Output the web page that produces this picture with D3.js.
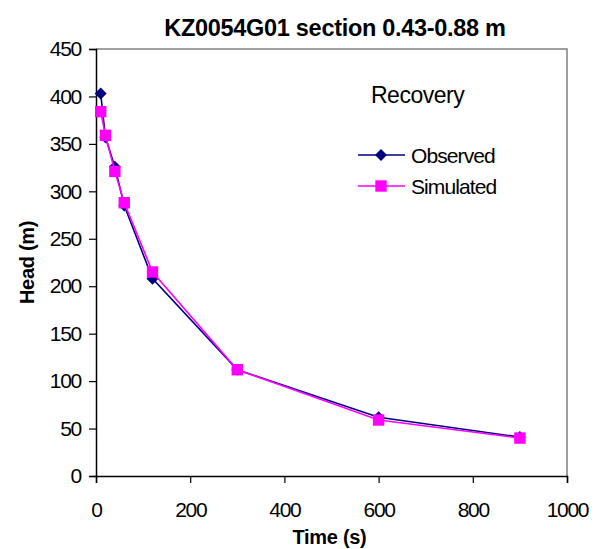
<!DOCTYPE html>
<html>
<head>
  <script src="https://d3js.org/d3.v7.min.js"></script>
  <style>
    body { margin: 0; background: #fff; font-family: "Liberation Sans", Arial, sans-serif; }
    .tick text { font-family: "Liberation Sans", Arial, sans-serif; }
  </style>
</head>
<body>
  <svg id="chart" width="596" height="549"></svg>
  <script>
    // data
    const obsTime = [10, 20, 40, 60, 120, 300, 600, 900];
    const obsHead = [403, 357, 326, 285, 208, 112, 62, 41];
    const simTime = [10, 20, 40, 60, 120, 300, 600, 900];
    const simHead = [384, 359, 321, 288, 215, 112, 59, 40];
    const xTicks = [0, 200, 400, 600, 800, 1000];
    const yTicks = [0, 50, 100, 150, 200, 250, 300, 350, 400, 450];

    const svg = d3.select("#chart");
    const margin = { top: 49, right: 29, bottom: 73, left: 96 };
    const width = 596 - margin.left - margin.right,
      height = 549 - margin.top - margin.bottom;

    const x = d3.scaleLinear().domain([0, 1000]).range([0, width]);
    const y = d3.scaleLinear().domain([0, 450]).range([height, 0]);

    const g = svg.append("g").attr("transform", `translate(${margin.left},${margin.top})`);

    // plot frame (top and right in grey)
    g.append("path")
      .attr("d", `M0,0H${width}V${height}`)
      .attr("fill", "none")
      .attr("stroke", "#808080")
      .attr("stroke-width", 1.5);

    const xAxis = g.append("g")
      .attr("transform", `translate(0,${height})`)
      .call(d3.axisBottom(x).tickValues(xTicks).tickFormat(d3.format("d")).tickSize(7).tickPadding(19));
    const yAxis = g.append("g")
      .call(d3.axisLeft(y).tickValues(yTicks).tickSize(7).tickPadding(8));

    [xAxis, yAxis].forEach(a => {
      a.select(".domain").attr("stroke", "#000").attr("stroke-width", 1.5);
      a.selectAll(".tick line").attr("stroke", "#000").attr("stroke-width", 1.2);
      a.selectAll(".tick text")
        .attr("font-size", 21)
        .attr("letter-spacing", -1.3)
        .attr("fill", "#000");
    });

    // title and axis titles
    svg.append("text")
      .attr("x", 335).attr("y", 36)
      .attr("text-anchor", "middle")
      .attr("font-size", 23.5).attr("font-weight", "bold")
      .attr("letter-spacing", -0.3)
      .text("KZ0054G01 section 0.43-0.88 m");

    svg.append("text")
      .attr("x", margin.left + width / 2 - 2).attr("y", 544)
      .attr("text-anchor", "middle")
      .attr("font-size", 20).attr("font-weight", "bold")
      .attr("letter-spacing", -0.3)
      .text("Time (s)");

    svg.append("text")
      .attr("transform", `translate(34,${margin.top + height / 2}) rotate(-90)`)
      .attr("text-anchor", "middle")
      .attr("font-size", 20).attr("font-weight", "bold")
      .attr("letter-spacing", -0.3)
      .text("Head (m)");

    const series = [
      { name: "Observed", t: obsTime, h: obsHead, color: "#000080", symbol: d3.symbolDiamond2, size: 92 },
      { name: "Simulated", t: simTime, h: simHead, color: "#ff00ff", symbol: d3.symbolSquare, size: 130 }
    ];

    const line = d3.line().x(d => x(d[0])).y(d => y(d[1]));

    series.forEach(s => {
      const pts = s.t.map((t, i) => [t, s.h[i]]);
      g.append("path")
        .datum(pts)
        .attr("fill", "none")
        .attr("stroke", s.color)
        .attr("stroke-width", 1.6)
        .attr("d", line);
      g.selectAll(null)
        .data(pts)
        .enter().append("path")
        .attr("transform", d => `translate(${x(d[0])},${y(d[1])})`)
        .attr("d", d3.symbol().type(s.symbol).size(s.size))
        .attr("fill", s.color);
    });

    // legend
    svg.append("text")
      .attr("x", 371).attr("y", 103)
      .attr("font-size", 23)
      .attr("letter-spacing", -0.5)
      .text("Recovery");

    const leg = svg.append("g");
    series.forEach((s, i) => {
      const ly = 155 + i * 31;
      leg.append("line")
        .attr("x1", 358).attr("x2", 405)
        .attr("y1", ly).attr("y2", ly)
        .attr("stroke", s.color).attr("stroke-width", 1.6);
      leg.append("path")
        .attr("transform", `translate(381,${ly})`)
        .attr("d", d3.symbol().type(s.symbol).size(s.size))
        .attr("fill", s.color);
      leg.append("text")
        .attr("x", 411).attr("y", ly + 8)
        .attr("font-size", 21)
        .attr("letter-spacing", -0.9)
        .text(s.name);
    });
  </script>
</body>
</html>
